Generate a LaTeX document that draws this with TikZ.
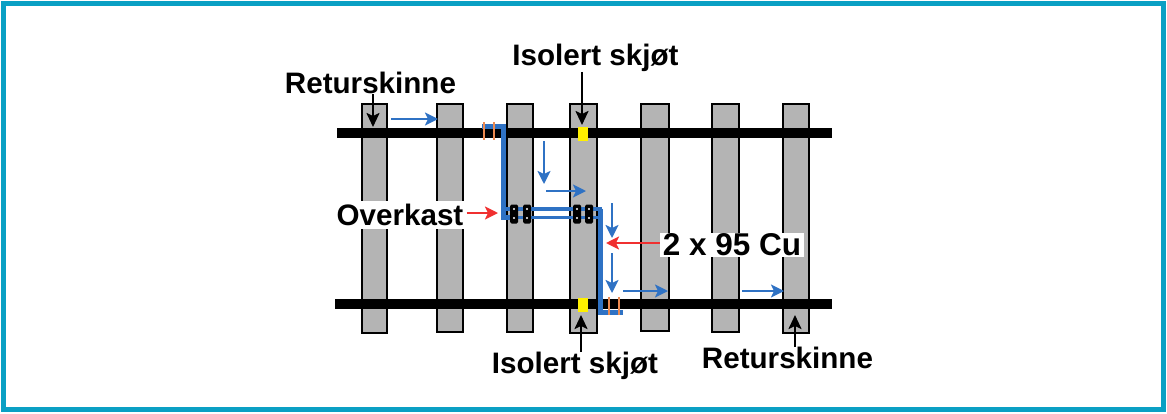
\documentclass[tikz,border=0pt]{standalone}
\usepackage{fontspec}
\setmainfont{Liberation Sans}
\usetikzlibrary{arrows.meta}
\definecolor{frameteal}{HTML}{0AA0C4}
\definecolor{sleepergrey}{HTML}{B4B4B4}
\definecolor{wireblue}{HTML}{2F72C4}
\definecolor{tickorange}{HTML}{EE8A50}
\definecolor{jointyellow}{HTML}{FFF000}
\definecolor{callred}{HTML}{F03030}
\tikzset{
  sleeper/.style={draw=black,line width=2.2pt,fill=sleepergrey,inner sep=0pt},
  rail/.style={line width=10pt},
  joint/.style={fill=jointyellow,inner sep=0pt,minimum width=10pt,minimum height=14pt},
  clamp/.style={fill=black,rounded corners=1.5pt,inner sep=0pt,minimum width=8pt,minimum height=19pt},
  wire/.style={draw=wireblue,line width=5pt},
  thinwire/.style={draw=wireblue,line width=3.5pt},
  tick/.style={draw=tickorange,line width=2.6pt},
  flow/.style={draw=wireblue,line width=2.2pt,-{Stealth[length=13pt,width=13pt,inset=3pt]}},
  call/.style={draw=callred,line width=2.2pt,-{Stealth[length=13pt,width=13pt,inset=3pt]}},
  point/.style={draw=black,line width=2.2pt,-{Stealth[length=14pt,width=13pt,inset=3pt]}},
  lab/.style={font=\fontsize{29.6}{32}\selectfont\bfseries,inner sep=0pt},
}
\begin{document}
\begin{tikzpicture}[x=1pt,y=-1pt]
\useasboundingbox (0,0) rectangle (1167,413);
\draw[frameteal,line width=5pt] (3.5,3.5) rectangle (1163.5,409.5);

\foreach \name/\x/\w/\b in {a/374.5/25/333,b/450/26/332,c/520/26/332,d/583.5/27/333,e/655/28/331,f/725.5/27/332,g/796/26/333}
  \node[sleeper,minimum width=\w pt,minimum height={\b-104 pt}] (sl\name) at (\x,{(104+\b)/2}) {};

\coordinate (railTopW) at (337,133);
\coordinate (railTopE) at (832,133);
\coordinate (railBotW) at (335,304);
\coordinate (railBotE) at (832,304);
\draw[rail] (railTopW) -- (railTopE);
\draw[rail] (railBotW) -- (railBotE);

\node[joint] (jointTop) at (583,134) {};
\node[joint] (jointBot) at (583,305) {};

\coordinate (wireTopA) at (482,126.5);
\coordinate (wireTopB) at (503,126.5);
\coordinate (wireMidA) at (503,217.5);
\coordinate (wireMidB) at (600,208.5);
\coordinate (wireBotA) at (600,312);
\coordinate (wireBotB) at (623,312);
\draw[wire] (wireTopA) -- (wireTopB) -- (wireMidA) -- ++(8,0);
\draw[thinwire] (503,209) -- (602,209);
\draw[thinwire] (503,217.5) -- (602,217.5);
\draw[wire] (wireMidB) -- (wireBotA) -- (wireBotB);

\draw[tick] (484,122) -- (484,140);
\draw[tick] (494,122) -- (494,140);
\draw[tick] (609,297) -- (609,315);
\draw[tick] (619,297) -- (619,315);

\foreach \name/\x in {ca/514,cb/527,cc/577,cd/589}{
  \node[clamp] (\name) at (\x,214) {};
  \fill[white] (\x,209) circle (1.2pt) (\x,218) circle (1.2pt);
}

\coordinate (flowAs) at (391,119);
\coordinate (flowAe) at (438,119);
\coordinate (flowBs) at (544,141);
\coordinate (flowBe) at (544,184);
\coordinate (flowCs) at (546,191);
\coordinate (flowCe) at (586,191);
\coordinate (flowDs) at (612,203);
\coordinate (flowDe) at (612,238);
\coordinate (flowEs) at (612,253);
\coordinate (flowEe) at (612,293);
\coordinate (flowFs) at (623,291);
\coordinate (flowFe) at (668,291);
\coordinate (flowGs) at (742,291);
\coordinate (flowGe) at (784,291);
\draw[flow] (flowAs) -- (flowAe);
\draw[flow] (flowBs) -- (flowBe);
\draw[flow] (flowCs) -- (flowCe);
\draw[flow] (flowDs) -- (flowDe);
\draw[flow] (flowEs) -- (flowEe);
\draw[flow] (flowFs) -- (flowFe);
\draw[flow] (flowGs) -- (flowGe);

\node[lab] (retTop) at (370.5,83) {Returskinne};
\node[lab] (isoTop) at (595.5,58) {Isolert skjøt};
\node[lab,fill=white,inner xsep=1pt,inner ysep=3pt] (overkast) at (400,215) {Overkast};
\node[lab,fill=white,inner xsep=3pt,inner ysep=1pt,font=\fontsize{31.5}{34}\selectfont\bfseries] (cable) at (732,245) {2 x 95 Cu};
\node[lab] (isoBot) at (575,366) {Isolert skjøt};
\node[lab] (retBot) at (787.5,358) {Returskinne};

\coordinate (retTopTip) at (373,127);
\coordinate (isoTopTip) at (582,125);
\coordinate (isoBotTip) at (581,315);
\coordinate (retBotTip) at (795,315);
\coordinate (overTip) at (498,213);
\coordinate (cableTip) at (606,243);
\draw[point] (retTop.south -| retTopTip) -- (retTopTip);
\draw[point] (isoTop.south -| isoTopTip) -- (isoTopTip);
\draw[point] (isoBot.north -| isoBotTip) -- (isoBotTip);
\draw[point] (retBot.north -| retBotTip) -- (retBotTip);
\draw[call] (overkast.east) ++(2,-2) -- (overTip);
\draw[call] (cable.west |- cableTip) -- (cableTip);
\end{tikzpicture}
\end{document}
